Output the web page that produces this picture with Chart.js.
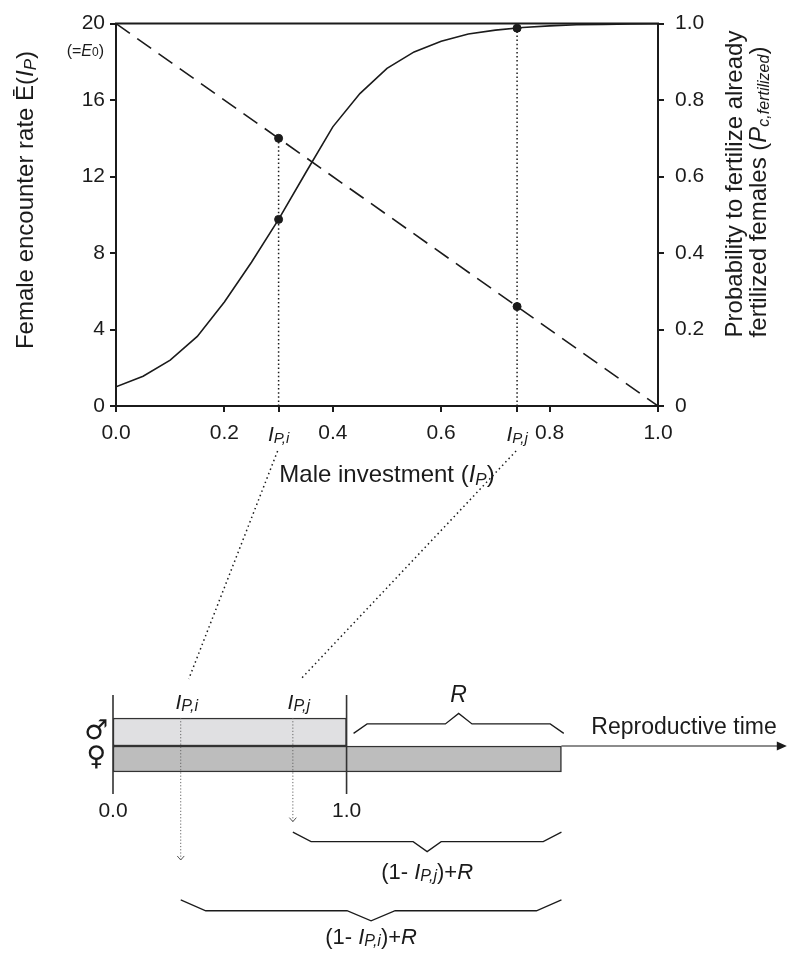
<!DOCTYPE html>
<html><head><meta charset="utf-8">
<script src="https://cdn.jsdelivr.net/npm/chart.js@4/dist/chart.umd.min.js"></script>
<style>
html,body{margin:0;padding:0;background:#fff;}
#wrap{position:relative;width:788px;height:953px;overflow:hidden;}
#wrap canvas{position:absolute;left:0;top:0;}
</style></head><body>
<div id="wrap"><canvas id="topc" width="788" height="953"></canvas><canvas id="botc" width="788" height="953"></canvas></div>
<script>
// ---------- data: top panel ----------
const investment = [0.00,0.05,0.10,0.15,0.20,0.25,0.30,0.35,0.40,0.45,0.50,0.55,0.60,0.65,0.70,0.75,0.80,0.85,0.90,0.95,1.00];
const pFertilized = [0.050,0.078,0.120,0.182,0.272,0.376,0.488,0.610,0.730,0.817,0.883,0.926,0.954,0.973,0.983,0.990,0.994,0.997,0.998,0.999,1.000];
const encounterX = [0, 1];
const encounterRate = [20, 0];
const ipValues = [0.30, 0.74];
const ipNames = ['i', 'j'];
const ipEncounter = [14.0, 5.2];
const ipProb = [0.488, 0.988];
const xTickValues = [0.0, 0.2, 0.4, 0.6, 0.8, 1.0];
const leftTickValues = [0, 4, 8, 12, 16, 20];
const rightTickValues = [0, 0.2, 0.4, 0.6, 0.8, 1.0];

// ---------- data: bottom panel (schematic) ----------
const diagIP = [0.29, 0.77];
const maleSpan = [0, 1.0];
const femaleSpan = [0, 1.92];
const rSpan = [1.03, 1.93];
const timeAxisEnd = 2.885;
const diagTickValues = [0.0, 1.0];

// ---------- style / layout ----------
const FONT = "'Liberation Sans', Arial, Helvetica, sans-serif";
const SYM_FONT = "'DejaVu Sans', sans-serif";
const INK = '#1b1b1b';
Chart.defaults.font.family = FONT;
Chart.defaults.color = INK;

function fontOf(s){ return (s.i ? 'italic ' : '') + s.s + 'px ' + (s.f || FONT); }
function drawRich(ctx, segs, x, y, align, rot, vcenter){
  ctx.save();
  ctx.translate(x, y);
  if (rot) ctx.rotate(rot);
  let w = 0;
  for (const s of segs){ ctx.font = fontOf(s); w += ctx.measureText(s.t).width; }
  let cx = align === 'center' ? -w/2 : (align === 'right' ? -w : 0);
  const base = vcenter ? 0.36 * segs[0].s : 0;
  ctx.textBaseline = 'alphabetic'; ctx.textAlign = 'left'; ctx.fillStyle = INK;
  for (const s of segs){ ctx.font = fontOf(s); ctx.fillText(s.t, cx, base + (s.dy || 0)); cx += ctx.measureText(s.t).width; }
  ctx.restore();
}
const T = (t, s) => ({t, s});
const It = (t, s, dy) => ({t, s, i: true, dy: dy || 0});

function fmtTick(v){ return v === 0 ? '0.0' : v.toFixed(1); }

const topDecor = {
  id: 'topDecor',
  afterDraw(chart){
    const ctx = chart.ctx, a = chart.chartArea, sx = chart.scales.x, sy = chart.scales.y;
    // frame top edge
    ctx.save(); ctx.strokeStyle = INK; ctx.lineWidth = 2;
    ctx.beginPath(); ctx.moveTo(a.left - 1, a.top); ctx.lineTo(a.right + 1, a.top); ctx.stroke(); ctx.restore();
    // I_P tick labels
    ipValues.forEach((v, k) => {
      drawRich(ctx, [It('I', 21), It('P,' + ipNames[k], 15, 2)], sx.getPixelForValue(v), a.bottom + 35, 'center');
    });
    // (=E0)
    drawRich(ctx, [T('(=', 16), It('E', 16), T('0', 12, 1), T(')', 16)], a.left - 12, sy.getPixelForValue(20) + 32, 'right');
    // left title
    drawRich(ctx, [T('Female encounter rate ', 24), T('\u0112', 24), T('(', 24), It('I', 24), It('P', 17, 3), T(')', 24)], 24.5, 200, 'center', -Math.PI/2, true);
    // right title
    drawRich(ctx, [T('Probability to fertilize already', 24)], 733, 184, 'center', -Math.PI/2, true);
    drawRich(ctx, [T('fertilized females (', 24), It('P', 24), It('c,fertilized', 16, 3), T(')', 24)], 757, 192, 'center', -Math.PI/2, true);
    // x title
    drawRich(ctx, [T('Male investment (', 24), It('I', 24), It('P', 17, 3), T(')', 24)], (a.left + a.right)/2, a.bottom + 76, 'center');
  }
};

const gridStyle = {drawOnChartArea: false, drawTicks: true, tickLength: 6, color: INK, lineWidth: 2};
const borderStyle = {display: true, color: INK, width: 2};

const topChart = new Chart(document.getElementById('topc'), {
  type: 'line',
  data: { datasets: [
    { data: investment.map((x, i) => ({x, y: pFertilized[i]})), yAxisID: 'y2', borderColor: INK, borderWidth: 1.6, pointRadius: 0, tension: 0, order: 1 },
    { data: encounterX.map((x, i) => ({x, y: encounterRate[i]})), yAxisID: 'y', borderColor: INK, borderWidth: 1.6, borderDash: [17, 9], pointRadius: 0, order: 1 },
    { data: [{x: ipValues[0], y: 0}, {x: ipValues[0], y: ipEncounter[0]}], yAxisID: 'y', borderColor: INK, borderWidth: 1.5, borderDash: [1.5, 2.6], pointRadius: 0, order: 2 },
    { data: [{x: ipValues[1], y: 0}, {x: ipValues[1], y: ipProb[1]}], yAxisID: 'y2', borderColor: INK, borderWidth: 1.5, borderDash: [1.5, 2.6], pointRadius: 0, order: 2 },
    { data: ipValues.map((x, i) => ({x, y: ipEncounter[i]})), yAxisID: 'y', showLine: false, pointRadius: 4, backgroundColor: INK, borderColor: INK, order: 0 },
    { data: ipValues.map((x, i) => ({x, y: ipProb[i]})), yAxisID: 'y2', showLine: false, pointRadius: 4, backgroundColor: INK, borderColor: INK, order: 0 }
  ]},
  options: {
    responsive: false, animation: false, events: [],
    layout: {padding: {top: 16, left: 0, right: 0, bottom: 0}},
    plugins: {legend: {display: false}, tooltip: {enabled: false}},
    scales: {
      x: { type: 'linear', min: 0, max: 1, offset: false,
        afterBuildTicks(s){ s.ticks = xTickValues.concat(ipValues).sort((p, q) => p - q).map(v => ({value: v})); },
        afterFit(s){ s.height = 547; },
        ticks: { callback: v => ipValues.includes(v) ? '' : fmtTick(v), font: {size: 21}, color: INK, padding: 9, maxRotation: 0, autoSkip: false },
        grid: gridStyle, border: borderStyle },
      y: { type: 'linear', position: 'left', min: 0, max: 20,
        afterBuildTicks(s){ s.ticks = leftTickValues.map(v => ({value: v})); },
        afterFit(s){ s.width = 116; },
        ticks: { callback: v => String(v), font: {size: 21}, color: INK, padding: 5 },
        grid: gridStyle, border: borderStyle },
      y2: { type: 'linear', position: 'right', min: 0, max: 1,
        afterBuildTicks(s){ s.ticks = rightTickValues.map(v => ({value: v})); },
        afterFit(s){ s.width = 130; },
        ticks: { callback: v => v === 0 ? '0' : v.toFixed(1), font: {size: 21}, color: INK, padding: 11 },
        grid: gridStyle, border: borderStyle }
    }
  },
  plugins: [topDecor]
});

// ---------- bottom panel ----------
// row positions (layout, in row units of the hidden y scale)
const ROW = { male: 1, female: 2, barTop: 0.48, boundary: 1.52, vTop: -0.37, vBottom: 3.30,
  ipLabel: 0.15, rLabel: -0.12, tickLabel: 4.14, connect: -0.96, timeLabel: 1.07, sym: [0.99, 1.96] };
const arrowEndRow = [5.74, 4.32];
const braceRows = { R: [1.05, 0.70, 0.31], j: [4.71, 5.06, 5.43], i: [7.22, 7.62, 7.99] };
const braceLabelRow = { j: 6.44, i: 8.85 };

function bracePoints(x0, x1, rows, dEnd, dTip){
  const [yEnd, yFlat, yTip] = rows, xt = (x0 + x1) / 2;
  return [{x: x0, y: yEnd}, {x: x0 + dEnd, y: yFlat}, {x: xt - dTip, y: yFlat}, {x: xt, y: yTip},
          {x: xt + dTip, y: yFlat}, {x: x1 - dEnd, y: yFlat}, {x: x1, y: yEnd}];
}
const lineDS = (data, extra) => Object.assign({type: 'line', data, borderColor: INK, borderWidth: 1.3, pointRadius: 0, tension: 0, fill: false, clip: false, order: 1}, extra || {});

const bottomDecor = {
  id: 'bottomDecor',
  afterDraw(chart){
    const ctx = chart.ctx, bx = chart.scales.x, by = chart.scales.y;
    const X = v => bx.getPixelForValue(v), Y = v => by.getPixelForValue(v);
    // arrowheads of dotted drop lines
    ctx.save(); ctx.strokeStyle = '#555'; ctx.lineWidth = 1;
    diagIP.forEach((v, k) => {
      const x = X(v), y = Y(arrowEndRow[k]);
      ctx.beginPath(); ctx.moveTo(x - 3.5, y - 4); ctx.lineTo(x, y); ctx.lineTo(x + 3.5, y - 4); ctx.stroke();
    });
    ctx.restore();
    // time axis arrowhead
    ctx.save(); ctx.fillStyle = INK;
    const tx = X(timeAxisEnd), ty = Y(ROW.boundary);
    ctx.beginPath(); ctx.moveTo(tx, ty); ctx.lineTo(tx - 10, ty - 4.5); ctx.lineTo(tx - 10, ty + 4.5); ctx.closePath(); ctx.fill();
    ctx.restore();
    // connecting dotted lines from the top panel
    const tsx = topChart.scales.x, ta = topChart.chartArea;
    ctx.save(); ctx.strokeStyle = INK; ctx.lineWidth = 1.5; ctx.setLineDash([1.5, 3.2]);
    ipValues.forEach((v, k) => {
      ctx.beginPath(); ctx.moveTo(tsx.getPixelForValue(v) - 1, ta.bottom + 45); ctx.lineTo(X(diagIP[k]) + 8, Y(ROW.connect)); ctx.stroke();
    });
    ctx.restore();
    // texts
    diagIP.forEach((v, k) => drawRich(ctx, [It('I', 21), It('P,' + ipNames[k], 16, 1.5)], X(v) + 6, Y(ROW.ipLabel), 'center'));
    drawRich(ctx, [It('R', 23)], X((rSpan[0] + rSpan[1]) / 2), Y(ROW.rLabel), 'center');
    diagTickValues.forEach(v => drawRich(ctx, [T(v.toFixed(1), 21)], X(v), Y(ROW.tickLabel), 'center'));
    drawRich(ctx, [T('Reproductive time', 23)], X(2.048), Y(ROW.timeLabel), 'left');
    drawRich(ctx, [T('(1- ', 22), It('I', 22), It('P,j', 16, 2), T(')+', 22), It('R', 22)], X((diagIP[1] + femaleSpan[1]) / 2), Y(braceLabelRow.j), 'center');
    drawRich(ctx, [T('(1- ', 22), It('I', 22), It('P,i', 16, 2), T(')+', 22), It('R', 22)], X((diagIP[0] + femaleSpan[1]) / 2), Y(braceLabelRow.i), 'center');
    ctx.save(); ctx.fillStyle = INK; ctx.textAlign = 'center'; ctx.textBaseline = 'middle'; ctx.font = '27px ' + SYM_FONT;
    ctx.fillText('\u2642', X(-0.071), Y(ROW.sym[0]));
    ctx.fillText('\u2640', X(-0.071), Y(ROW.sym[1]));
    ctx.restore();
  }
};

const bottomChart = new Chart(document.getElementById('botc'), {
  type: 'line',
  data: { datasets: [
    { type: 'bar', indexAxis: 'y', data: [{x: maleSpan, y: ROW.male}], backgroundColor: '#e0e0e2', borderColor: '#333', borderWidth: 1.5, borderSkipped: false, barThickness: 28, grouped: false, order: 10 },
    { type: 'bar', indexAxis: 'y', data: [{x: femaleSpan, y: ROW.female}], backgroundColor: '#bdbdbd', borderColor: '#333', borderWidth: 1.5, borderSkipped: false, barThickness: 26, grouped: false, order: 10 },
    lineDS([{x: femaleSpan[1], y: ROW.boundary}, {x: timeAxisEnd - 0.03, y: ROW.boundary}], {borderWidth: 1.1}),
    lineDS([{x: diagTickValues[0], y: ROW.vTop}, {x: diagTickValues[0], y: ROW.vBottom}], {borderColor: '#333', borderWidth: 1.6}),
    lineDS([{x: diagTickValues[1], y: ROW.vTop}, {x: diagTickValues[1], y: ROW.vBottom}], {borderColor: '#333', borderWidth: 1.6}),
    lineDS([{x: diagIP[0], y: ROW.barTop}, {x: diagIP[0], y: arrowEndRow[0]}], {borderColor: '#666', borderWidth: 1, borderDash: [1.2, 2]}),
    lineDS([{x: diagIP[1], y: ROW.barTop}, {x: diagIP[1], y: arrowEndRow[1]}], {borderColor: '#666', borderWidth: 1, borderDash: [1.2, 2]}),
    lineDS(bracePoints(rSpan[0], rSpan[1], braceRows.R, 0.058, 0.057)),
    lineDS(bracePoints(diagIP[1], femaleSpan[1], braceRows.j, 0.078, 0.06)),
    lineDS(bracePoints(diagIP[0], femaleSpan[1], braceRows.i, 0.107, 0.103))
  ]},
  options: {
    responsive: false, animation: false, events: [],
    layout: {padding: {left: 113, right: 0, top: 678, bottom: 5}},
    plugins: {legend: {display: false}, tooltip: {enabled: false}},
    scales: {
      x: {type: 'linear', display: false, min: 0, max: 2.89, offset: false},
      y: {type: 'linear', display: false, min: -1, max: 9, reverse: true, offset: false}
    }
  },
  plugins: [bottomDecor]
});
</script>
</body></html>
